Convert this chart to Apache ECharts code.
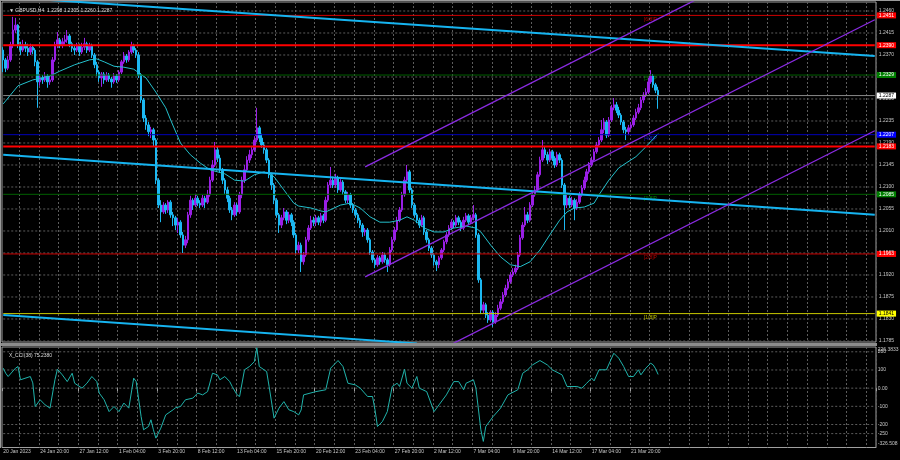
<!DOCTYPE html>
<html><head><meta charset="utf-8">
<script src="https://cdn.jsdelivr.net/npm/echarts@6/dist/echarts.min.js"></script>
<style>html,body{margin:0;padding:0;background:#000;}#c{width:900px;height:460px;}</style>
</head><body><div id="c"></div>
<script>
// ---------- DATA ----------
const headerText = '\u25BC GBPUSD,H4  1.2298 1.2305 1.2260 1.2287';
const cciTitle = 'X_CCI(38) 75.2380';
const slotCount = 355;
const firstOpen = 1.2380;
const closes = [1.2360,1.2343,1.2360,1.2391,1.2421,1.2431,1.2391,1.2380,1.2391,1.2384,
1.2376,1.2386,1.2380,1.2356,1.2315,1.2323,1.2319,1.2327,1.2315,1.2319,
1.2360,1.2391,1.2401,1.2391,1.2397,1.2401,1.2409,1.2393,1.2384,1.2380,
1.2388,1.2376,1.2386,1.2393,1.2380,1.2388,1.2370,1.2350,1.2335,1.2323,
1.2331,1.2319,1.2329,1.2321,1.2315,1.2327,1.2319,1.2335,1.2356,1.2368,
1.2360,1.2376,1.2388,1.2380,1.2370,1.2329,1.2278,1.2241,1.2227,1.2213,
1.2217,1.2196,1.2114,1.2063,1.2049,1.2063,1.2053,1.2069,1.2043,1.2037,
1.2022,1.2028,1.2002,1.1981,1.1992,1.2043,1.2073,1.2063,1.2077,1.2067,
1.2063,1.2077,1.2069,1.2084,1.2114,1.2145,1.2176,1.2159,1.2135,1.2114,
1.2094,1.2077,1.2053,1.2043,1.2063,1.2049,1.2084,1.2114,1.2135,1.2155,
1.2166,1.2176,1.2196,1.2221,1.2200,1.2186,1.2176,1.2155,1.2125,1.2104,
1.2073,1.2043,1.2022,1.2037,1.2049,1.2032,1.2043,1.2028,1.2002,1.1971,
1.1981,1.1947,1.1961,1.1992,1.2016,1.2032,1.2028,1.2037,1.2028,1.2041,
1.2032,1.2073,1.2104,1.2114,1.2104,1.2118,1.2094,1.2110,1.2090,1.2073,
1.2084,1.2063,1.2053,1.2043,1.2032,1.2022,1.2008,1.2012,1.1992,1.1967,
1.1951,1.1941,1.1955,1.1947,1.1961,1.1951,1.1941,1.1971,1.1992,1.2012,
1.2032,1.2053,1.2084,1.2114,1.2131,1.2094,1.2063,1.2043,1.2032,1.2022,
1.2037,1.2008,1.1992,1.1975,1.1961,1.1947,1.1941,1.1955,1.1971,1.1988,
1.2002,1.2016,1.2028,1.2022,1.2037,1.2028,1.2016,1.2032,1.2041,1.2028,
1.2037,1.2043,1.2002,1.1910,1.1848,1.1859,1.1838,1.1828,1.1844,1.1824,
1.1838,1.1852,1.1865,1.1879,1.1893,1.1906,1.1920,1.1926,1.1934,1.1961,
1.1996,1.2022,1.2043,1.2032,1.2063,1.2084,1.2094,1.2125,1.2155,1.2176,
1.2166,1.2155,1.2172,1.2159,1.2145,1.2166,1.2155,1.2104,1.2063,1.2077,
1.2063,1.2073,1.2057,1.2069,1.2084,1.2098,1.2114,1.2131,1.2145,1.2155,
1.2172,1.2186,1.2196,1.2217,1.2233,1.2206,1.2237,1.2262,1.2268,1.2257,
1.2247,1.2233,1.2217,1.2213,1.2221,1.2227,1.2241,1.2253,1.2262,1.2278,
1.2288,1.2294,1.2315,1.2327,1.2309,1.2298,1.2287];
const highs = [1.2386,1.2364,1.2368,1.2397,1.2448,1.2446,1.2433,1.2397,1.2401,1.2397,
1.2393,1.2393,1.2391,1.2384,1.2360,1.2331,1.2329,1.2335,1.2331,1.2327,
1.2366,1.2397,1.2417,1.2405,1.2405,1.2411,1.2421,1.2413,1.2397,1.2391,
1.2395,1.2393,1.2395,1.2405,1.2397,1.2395,1.2393,1.2374,1.2356,1.2339,
1.2335,1.2335,1.2335,1.2333,1.2325,1.2333,1.2331,1.2339,1.2360,1.2376,
1.2372,1.2380,1.2397,1.2393,1.2384,1.2376,1.2333,1.2282,1.2247,1.2233,
1.2223,1.2221,1.2200,1.2118,1.2073,1.2069,1.2067,1.2073,1.2073,1.2049,
1.2041,1.2037,1.2032,1.2008,1.2000,1.2049,1.2082,1.2077,1.2086,1.2082,
1.2073,1.2084,1.2082,1.2094,1.2121,1.2155,1.2192,1.2182,1.2166,1.2139,
1.2118,1.2100,1.2082,1.2059,1.2069,1.2067,1.2090,1.2121,1.2145,1.2163,
1.2176,1.2184,1.2204,1.2262,1.2225,1.2209,1.2192,1.2180,1.2159,1.2129,
1.2108,1.2077,1.2047,1.2043,1.2057,1.2053,1.2049,1.2047,1.2032,1.2006,
1.1988,1.1986,1.1967,1.1998,1.2022,1.2041,1.2039,1.2043,1.2041,1.2047,
1.2045,1.2080,1.2110,1.2141,1.2121,1.2127,1.2123,1.2116,1.2114,1.2094,
1.2090,1.2088,1.2067,1.2057,1.2047,1.2037,1.2026,1.2016,1.2016,1.1996,
1.1971,1.1955,1.1961,1.1959,1.1967,1.1965,1.1955,1.1977,1.1998,1.2018,
1.2039,1.2059,1.2090,1.2121,1.2145,1.2135,1.2098,1.2067,1.2047,1.2037,
1.2043,1.2041,1.2012,1.1996,1.1979,1.1965,1.1951,1.1959,1.1975,1.1992,
1.2008,1.2022,1.2034,1.2032,1.2043,1.2041,1.2032,1.2039,1.2047,1.2045,
1.2043,1.2063,1.2047,1.2006,1.1914,1.1865,1.1863,1.1844,1.1848,1.1848,
1.1844,1.1859,1.1871,1.1885,1.1900,1.1912,1.1926,1.1934,1.1941,1.1967,
1.2002,1.2028,1.2059,1.2049,1.2069,1.2090,1.2102,1.2131,1.2162,1.2196,
1.2184,1.2172,1.2178,1.2176,1.2163,1.2172,1.2170,1.2159,1.2108,1.2084,
1.2082,1.2080,1.2077,1.2075,1.2090,1.2104,1.2121,1.2137,1.2151,1.2162,
1.2178,1.2192,1.2202,1.2237,1.2241,1.2237,1.2243,1.2268,1.2282,1.2274,
1.2264,1.2251,1.2237,1.2223,1.2227,1.2233,1.2247,1.2260,1.2270,1.2284,
1.2294,1.2302,1.2323,1.2339,1.2331,1.2313,1.2305];
const lows = [1.2335,1.2335,1.2339,1.2356,1.2384,1.2415,1.2384,1.2370,1.2376,1.2376,
1.2368,1.2370,1.2372,1.2347,1.2262,1.2307,1.2311,1.2315,1.2303,1.2309,
1.2315,1.2356,1.2384,1.2384,1.2384,1.2391,1.2395,1.2386,1.2376,1.2370,
1.2376,1.2368,1.2372,1.2380,1.2374,1.2376,1.2364,1.2343,1.2327,1.2315,
1.2305,1.2311,1.2315,1.2315,1.2303,1.2311,1.2313,1.2315,1.2331,1.2352,
1.2354,1.2356,1.2372,1.2374,1.2364,1.2323,1.2272,1.2233,1.2217,1.2204,
1.2200,1.2182,1.2106,1.2057,1.2028,1.2045,1.2045,1.2047,1.2037,1.2020,
1.2012,1.2006,1.1996,1.1965,1.1975,1.1985,1.2037,1.2053,1.2059,1.2061,
1.2057,1.2059,1.2057,1.2065,1.2080,1.2110,1.2141,1.2151,1.2129,1.2106,
1.2086,1.2069,1.2047,1.2032,1.2039,1.2041,1.2045,1.2077,1.2108,1.2131,
1.2149,1.2159,1.2172,1.2192,1.2192,1.2180,1.2168,1.2149,1.2118,1.2094,
1.2065,1.2037,1.2006,1.2016,1.2032,1.2024,1.2026,1.2020,1.1996,1.1963,
1.1965,1.1926,1.1941,1.1957,1.1988,1.2012,1.2020,1.2020,1.2022,1.2020,
1.2026,1.2028,1.2069,1.2098,1.2098,1.2098,1.2088,1.2090,1.2084,1.2067,
1.2067,1.2057,1.2047,1.2037,1.2026,1.2016,1.1998,1.2000,1.1986,1.1961,
1.1945,1.1934,1.1937,1.1941,1.1943,1.1945,1.1926,1.1937,1.1967,1.1988,
1.2008,1.2028,1.2049,1.2080,1.2110,1.2088,1.2057,1.2037,1.2026,1.2016,
1.2018,1.2002,1.1986,1.1969,1.1955,1.1939,1.1928,1.1934,1.1951,1.1967,
1.1983,1.1998,1.2012,1.2016,1.2018,1.2022,1.2010,1.2012,1.2028,1.2022,
1.2024,1.2032,1.1996,1.1904,1.1840,1.1842,1.1832,1.1822,1.1824,1.1814,
1.1820,1.1834,1.1848,1.1861,1.1875,1.1889,1.1902,1.1916,1.1922,1.1930,
1.1957,1.1992,1.2018,1.2026,1.2028,1.2059,1.2080,1.2090,1.2121,1.2151,
1.2159,1.2147,1.2151,1.2153,1.2139,1.2141,1.2149,1.2098,1.2012,1.2057,
1.2057,1.2059,1.2032,1.2053,1.2065,1.2080,1.2094,1.2110,1.2127,1.2141,
1.2151,1.2168,1.2182,1.2192,1.2210,1.2200,1.2202,1.2233,1.2257,1.2251,
1.2241,1.2227,1.2210,1.2196,1.2206,1.2217,1.2223,1.2237,1.2249,1.2257,
1.2272,1.2284,1.2290,1.2311,1.2303,1.2292,1.2260];
const maIndex = [0,6,12,19,23,29,35,38,41,45,49,53,58,62,66,68,72,76,80,84,90,94,98,102,106,110,114,118,120,125,129,131,137,141,145,149,153,157,161,164,167,171,175,179,183,188,192,194,198,202,206,210,214,218,222,226,229,232,236,240,242,246,250,253,257,261,266];
const maValues = [1.2270,1.2307,1.2319,1.2327,1.2337,1.2350,1.2360,1.2362,1.2356,1.2347,1.2345,1.2341,1.2323,1.2294,1.2262,1.2237,1.2190,1.2166,1.2149,1.2135,1.2127,1.2114,1.2112,1.2125,1.2131,1.2121,1.2094,1.2067,1.2061,1.2057,1.2051,1.2049,1.2063,1.2067,1.2057,1.2039,1.2028,1.2028,1.2032,1.2039,1.2032,1.2016,1.2008,1.2008,1.2016,1.2020,1.2016,1.2008,1.1981,1.1957,1.1941,1.1937,1.1947,1.1971,1.2002,1.2032,1.2049,1.2057,1.2059,1.2067,1.2084,1.2114,1.2139,1.2149,1.2162,1.2182,1.2209];
const cciIndex = [0,1,2,5,6,7,11,12,13,15,17,19,21,22,24,26,28,29,32,34,36,38,39,41,43,45,47,49,51,53,54,56,57,59,60,61,62,64,66,69,70,72,74,77,79,81,83,85,87,88,90,92,93,95,96,98,100,102,103,104,107,108,110,112,114,116,118,120,121,122,127,131,133,136,138,140,143,145,148,150,151,152,154,156,158,160,161,163,164,166,168,169,172,175,177,180,183,185,187,188,191,192,194,195,196,199,202,205,209,211,213,215,218,221,223,227,229,233,235,237,239,240,242,245,248,250,252,254,256,258,259,261,263,264,265,266];
const cciValues = [110,82,64,110,119,46,64,29,-101,-64,-92,-110,46,104,73,36,82,27,0,27,64,36,-27,-64,-129,-101,-129,-82,-110,55,36,-156,-229,-211,-174,-229,-275,-220,-147,-119,-108,-101,-64,-55,-27,-37,-19,82,73,46,64,36,9,-37,-46,101,119,146,222,119,91,9,-165,-110,-74,-119,-129,-147,-120,-37,-19,-9,110,152,119,27,18,0,-46,-46,-119,-211,-184,-129,9,27,9,104,27,0,64,0,-19,-129,-92,-37,36,36,-9,27,46,0,-229,-293,-211,-156,-110,-37,-9,82,101,128,152,128,101,73,9,9,0,27,55,40,101,101,192,165,119,64,64,101,73,110,137,128,106,75.238];
const timeLabelIndex = [0,15,31,47,63,79,95,111,127,143,159,175,191,207,223,239,255];
const timeLabels = ['20 Jan 2023','24 Jan 20:00','27 Jan 12:00','1 Feb 04:00','3 Feb 20:00','8 Feb 12:00','13 Feb 04:00','15 Feb 20:00','20 Feb 12:00','23 Feb 04:00','27 Feb 20:00','2 Mar 12:00','7 Mar 04:00','9 Mar 20:00','14 Mar 12:00','17 Mar 04:00','21 Mar 20:00'];
const priceTicks = [1.2460,1.2415,1.2370,1.2325,1.2280,1.2235,1.2190,1.2145,1.2100,1.2055,1.2010,1.1965,1.1920,1.1875,1.1830,1.1785];
const priceMin = 1.17829, priceMax = 1.24784;
const levelPrices = [1.2451,1.2390,1.2329,1.2287,1.2207,1.2183,1.2085,1.1963,1.1841];
const tagTexts = ['[6/8]P','[5/8]P','[4/8]P','[3/8]P','[2/8]P','[1/8]P'];
const tagPrices = [1.2451,1.2329,1.2207,1.2085,1.1963,1.1841];
const tagIndex = 260;
const blueLines = [[[0,1.2489],[354,1.2368]],[[0,1.2166],[354,1.2043]],[[0,1.1838],[168,1.1780]]];
const purpleLines = [[[147,1.2141],[290,1.2505]],[[147,1.1916],[354,1.2442]],[[180,1.1773],[354,1.2215]]];
const cciLevels = [200,100,0,-100,-200,-250];
const cciLevelLabels = ['200','100','0.00','-100','-200','-250'];
const cciMax = 226.3833, cciMin = -326.508;

// ---------- STYLES ----------
const FONT = 'Liberation Sans';
const levelStyles = [
  {line:'#d00000', w:1, bg:'#ff0000', fg:'#ffffff'},
  {line:'#ff0000', w:2, bg:'#ff0000', fg:'#ffffff'},
  {line:'#006000', w:1, bg:'#008000', fg:'#ffffff'},
  {line:'#8a8a8a', w:1, bg:'#ffffff', fg:'#000000'},
  {line:'#0000b8', w:1, bg:'#0000ff', fg:'#ffffff'},
  {line:'#ff0000', w:2, bg:'#ff0000', fg:'#ffffff'},
  {line:'#006000', w:1, bg:'#008000', fg:'#ffffff'},
  {line:'#d00000', w:1, bg:'#ff0000', fg:'#ffffff'},
  {line:'#c8c800', w:1, bg:'#ffff00', fg:'#000000'}
];
const tagColors = ['#e00000','#00a000','#2020ff','#00a000','#e00000','#e0e000'];

const slots = Array.from({length: slotCount}, (_, i) => String(i));
const lastSlot = slotCount - 1;
const candleRows = closes.map((c, i) => [i === 0 ? firstOpen : closes[i - 1], c, lows[i], highs[i]]);
const gridLine = {color:'#5c5c5c', type:[2,2], width:1};
const isGridIdx = (i) => i % 8 === 7;
const isLabelIdx = (i) => timeLabelIndex.indexOf(i) >= 0;

const series = [];
function hLine(axisIdx, value, lineStyle, z, labelText, labelStyle) {
  return {
    type:'line', xAxisIndex:axisIdx, yAxisIndex:axisIdx, data:[[0, value], [lastSlot, value]],
    symbol:'none', silent:true, z:z, clip:false, lineStyle:lineStyle,
    endLabel: labelText == null ? {show:false} : Object.assign({show:true, formatter:labelText, fontSize:5, fontFamily:FONT}, labelStyle)
  };
}
// price grid + tick labels
priceTicks.forEach(p => series.push(hLine(0, p, gridLine, 1, p.toFixed(4), {distance:4, color:'#c8c8c8'})));
// level tags (behind candles)
tagPrices.forEach((p,k) => series.push({
  type:'scatter', xAxisIndex:0, yAxisIndex:0, symbolSize:1, silent:true, z:1,
  itemStyle:{color:'rgba(0,0,0,0)'},
  label:{show:true, position:[1, 2], align:'left', verticalAlign:'top', formatter:tagTexts[k], color:tagColors[k], fontSize:5, fontFamily:FONT},
  data:[[tagIndex, p]]
}));
// candles
series.push({
  type:'candlestick', xAxisIndex:0, yAxisIndex:0, data:candleRows, barWidth:2, z:2, silent:true,
  itemStyle:{color:'#9a1fe6', color0:'#1cb8f2', borderColor:'#9a1fe6', borderColor0:'#1cb8f2', borderWidth:1}
});
// MA
series.push({
  type:'line', xAxisIndex:0, yAxisIndex:0, data: maIndex.map((i,k)=>[i, maValues[k]]),
  symbol:'none', silent:true, z:3, lineStyle:{color:'#24c0cc', width:1}
});
// level lines
levelPrices.forEach((p,k) => series.push(hLine(0, p,
  {color:levelStyles[k].line, width:levelStyles[k].w, type:'solid'}, 5, p.toFixed(4),
  {distance:2, color:levelStyles[k].fg, backgroundColor:levelStyles[k].bg, padding:[1,2,0,2]})));
// trend lines
blueLines.forEach(seg => series.push({type:'line', xAxisIndex:0, yAxisIndex:0, data:seg, symbol:'none', silent:true, z:6, clip:true, lineStyle:{color:'#16b4f0', width:2}}));
purpleLines.forEach(seg => series.push({type:'line', xAxisIndex:0, yAxisIndex:0, data:seg, symbol:'none', silent:true, z:6, clip:true, lineStyle:{color:'#8a2be2', width:1.3}}));
// CCI levels
cciLevels.forEach((v,k) => series.push(hLine(1, v, gridLine, 1, cciLevelLabels[k], {distance:3, color:'#c8c8c8'})));
series.push(hLine(1, cciMax, {color:'rgba(0,0,0,0)', width:0}, 1, String(cciMax), {distance:3, color:'#c8c8c8', offset:[0,3]}));
series.push(hLine(1, cciMin, {color:'rgba(0,0,0,0)', width:0}, 1, String(cciMin), {distance:3, color:'#c8c8c8', offset:[0,-4]}));
// CCI line
series.push({
  type:'line', xAxisIndex:1, yAxisIndex:1, data: cciIndex.map((i,k)=>[i, cciValues[k]]),
  symbol:'none', silent:true, z:3, lineStyle:{color:'#20b2aa', width:1}
});

const chart = echarts.init(document.getElementById('c'), null, {renderer:'canvas'});
chart.setOption({
  backgroundColor:'#000000',
  animation:false,
  title:[
    {text:headerText, left:4, top:3, textStyle:{color:'#dcdcdc', fontSize:5, fontWeight:'normal', fontFamily:FONT}},
    {text:cciTitle, left:4, top:348, textStyle:{color:'#dcdcdc', fontSize:5, fontWeight:'normal', fontFamily:FONT}}
  ],
  grid:[
    {left:2, top:2, width:874, height:340, show:true, borderColor:'#a0a0a0', borderWidth:1, backgroundColor:'transparent'},
    {left:2, top:347, width:874, height:100.5, show:true, borderColor:'#a0a0a0', borderWidth:1, backgroundColor:'transparent'}
  ],
  xAxis:[
    {type:'category', gridIndex:0, data:slots, boundaryGap:true,
      axisLine:{show:false}, axisTick:{show:false}, axisLabel:{show:false},
      splitLine:{show:true, interval:isGridIdx, lineStyle:gridLine}},
    {type:'category', gridIndex:1, data:slots, boundaryGap:true,
      axisLine:{show:false},
      axisTick:{show:true, interval:isLabelIdx, length:3, lineStyle:{color:'#a0a0a0'}},
      axisLabel:{show:true, interval:isLabelIdx, align:'left', margin:2, color:'#c8c8c8', fontSize:5, fontFamily:FONT,
        formatter:(v) => { const k = timeLabelIndex.indexOf(Number(v)); return k >= 0 ? timeLabels[k] : ''; }},
      splitLine:{show:true, interval:isGridIdx, lineStyle:gridLine}}
  ],
  yAxis:[
    {type:'value', gridIndex:0, min:priceMin, max:priceMax, show:false, splitLine:{show:false}},
    {type:'value', gridIndex:1, min:cciMin, max:cciMax, show:false, splitLine:{show:false}}
  ],
  graphic:[
    {type:'rect', shape:{x:0, y:343, width:877, height:3}, style:{fill:'#8c8c8c'}, silent:true},
    {type:'line', shape:{x1:0, y1:0.5, x2:900, y2:0.5}, style:{stroke:'#9a9a9a', lineWidth:1}, silent:true},
    {type:'line', shape:{x1:0.5, y1:0, x2:0.5, y2:448}, style:{stroke:'#9a9a9a', lineWidth:1}, silent:true}
  ],
  series: series
});
</script>
</body></html>
